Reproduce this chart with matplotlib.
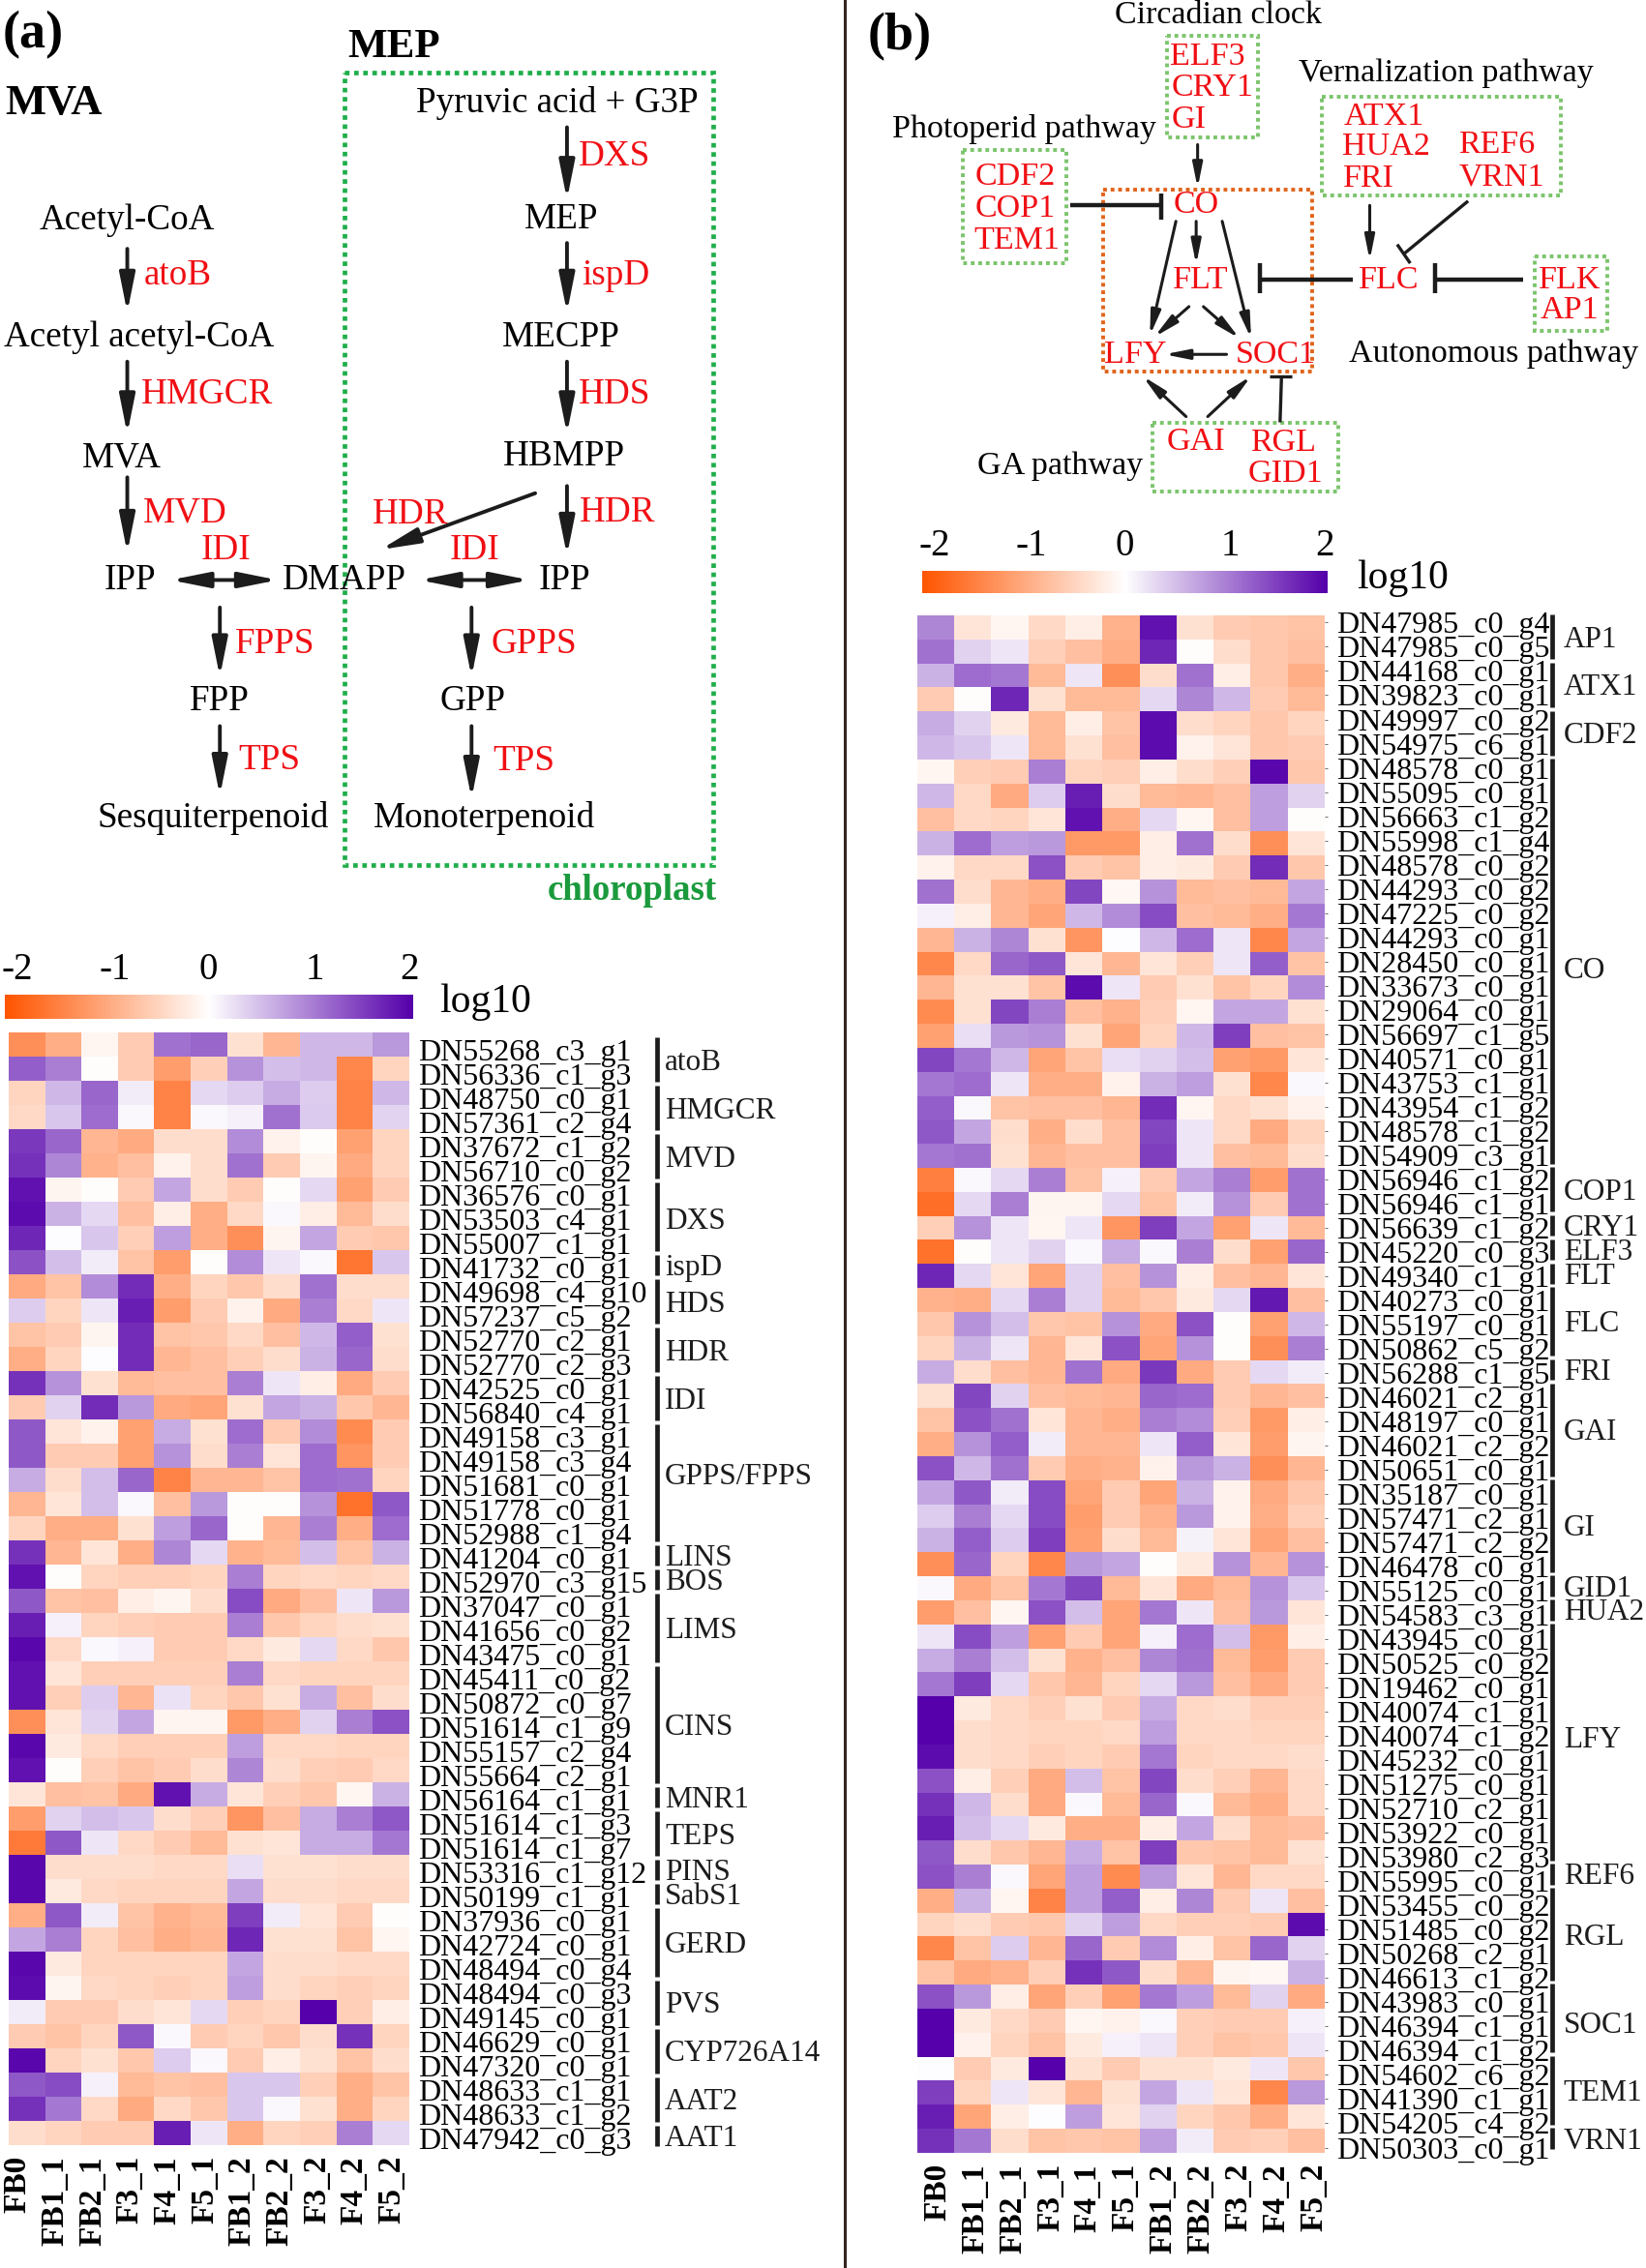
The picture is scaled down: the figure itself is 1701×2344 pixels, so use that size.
import matplotlib
matplotlib.use('Agg')
import matplotlib.pyplot as plt
import numpy as np
from matplotlib.colors import LinearSegmentedColormap
from matplotlib.patches import Rectangle

plt.rcParams['font.family'] = ['Liberation Serif', 'DejaVu Serif']

# samples
samples = ['FB0', 'FB1_1', 'FB2_1', 'F3_1', 'F4_1', 'F5_1', 'FB1_2', 'FB2_2', 'F3_2', 'F4_2', 'F5_2']
cbar_ticks = [-1.88, -0.92, 0, 1.04, 1.97]
cbar_labels = ['-2', '-1', '0', '1', '2']

# panel a heatmap
genes_a = ['DN55268_c3_g1', 'DN56336_c1_g3', 'DN48750_c0_g1', 'DN57361_c2_g4', 'DN37672_c1_g2', 'DN56710_c0_g2',
           'DN36576_c0_g1', 'DN53503_c4_g1', 'DN55007_c1_g1', 'DN41732_c0_g1', 'DN49698_c4_g10', 'DN57237_c5_g2',
           'DN52770_c2_g1', 'DN52770_c2_g3', 'DN42525_c0_g1', 'DN56840_c4_g1', 'DN49158_c3_g1', 'DN49158_c3_g4',
           'DN51681_c0_g1', 'DN51778_c0_g1', 'DN52988_c1_g4', 'DN41204_c0_g1', 'DN52970_c3_g15', 'DN37047_c0_g1',
           'DN41656_c0_g2', 'DN43475_c0_g1', 'DN45411_c0_g2', 'DN50872_c0_g7', 'DN51614_c1_g9', 'DN55157_c2_g4',
           'DN55664_c2_g1', 'DN56164_c1_g1', 'DN51614_c1_g3', 'DN51614_c1_g7', 'DN53316_c1_g12', 'DN50199_c1_g1',
           'DN37936_c0_g1', 'DN42724_c0_g1', 'DN48494_c0_g4', 'DN48494_c0_g3', 'DN49145_c0_g1', 'DN46629_c0_g1',
           'DN47320_c0_g1', 'DN48633_c1_g1', 'DN48633_c1_g2', 'DN47942_c0_g3']
groups_a = ['atoB', 'HMGCR', 'MVD', 'DXS', 'ispD', 'HDS', 'HDR', 'IDI', 'GPPS/FPPS', 'LINS', 'BOS', 'LIMS', 'CINS',
            'MNR1', 'TEPS', 'PINS', 'SabS1', 'GERD', 'PVS', 'CYP726A14', 'AAT2', 'AAT1']
group_sizes_a = [2, 2, 2, 3, 1, 2, 2, 2, 5, 1, 1, 3, 5, 1, 2, 1, 1, 3, 2, 2, 2, 1]
values_a = [
    [-1.3, -0.95, -0.1, -0.6, 1.1, 1.2, -0.35, -0.85, 0.55, 0.55, 0.8],
    [1.25, 1.0, -0.03, -0.6, -1.15, -0.55, 0.85, 0.5, 0.55, -1.4, -0.5],
    [-0.5, 0.55, 1.2, 0.15, -1.45, 0.3, 0.4, 0.65, 0.4, -1.45, 0.55],
    [-0.45, 0.45, 1.15, 0.05, -1.45, 0.05, 0.12, 1.1, 0.42, -1.45, 0.33],
    [1.55, 1.2, -0.85, -1.0, -0.4, -0.4, 0.9, -0.15, -0.03, -1.1, -0.5],
    [1.6, 0.95, -0.9, -0.75, -0.15, -0.4, 1.1, -0.6, -0.12, -1.0, -0.5],
    [1.85, -0.12, -0.02, -0.6, 0.7, -0.4, -0.6, -0.03, 0.3, -1.1, -0.6],
    [1.9, 0.6, 0.3, -0.75, -0.2, -0.95, -0.45, 0.05, -0.2, -0.8, -0.4],
    [1.7, 0.03, 0.45, -0.55, 0.75, -0.95, -1.3, -0.12, 0.7, -0.6, -0.65],
    [1.35, 0.5, 0.15, -0.7, -1.15, -0.02, 0.9, 0.2, 0.05, -1.6, 0.45],
    [-1.0, -0.7, 0.9, 1.65, -0.95, -0.5, -0.65, -0.4, 1.1, -0.4, -0.4],
    [0.4, -0.5, 0.2, 1.75, -1.15, -0.6, -0.15, -1.0, 1.0, -0.45, 0.2],
    [-0.7, -0.6, -0.12, 1.65, -0.7, -0.65, -0.45, -0.75, 0.55, 1.25, -0.35],
    [-0.95, -0.5, 0.03, 1.65, -0.85, -0.75, -0.55, -0.4, 0.6, 1.2, -0.4],
    [1.6, 0.85, -0.35, -0.8, -0.75, -0.75, 1.0, 0.2, -0.2, -1.0, -0.6],
    [-0.6, 0.35, 1.65, 0.8, -1.0, -1.05, -0.35, 0.7, 0.6, -0.65, -0.85],
    [1.3, -0.3, -0.15, -1.1, 0.65, -0.35, 1.15, -0.6, 0.9, -1.35, -0.6],
    [1.3, -0.6, -0.6, -1.1, 0.85, -0.4, 1.0, -0.3, 1.15, -1.25, -0.6],
    [0.65, -0.4, 0.5, 1.2, -1.45, -0.85, -0.85, -0.7, 1.15, 1.1, -0.5],
    [-0.85, -0.3, 0.5, 0.05, -0.75, 0.8, -0.02, -0.02, 0.85, -1.65, 1.3],
    [-0.5, -0.95, -0.95, -0.35, 0.75, 1.2, -0.02, -0.85, 1.0, -0.95, 1.15],
    [1.6, -0.85, -0.3, -0.95, 0.95, 0.3, -0.9, -0.8, 0.5, -0.7, 0.6],
    [1.85, -0.02, -0.5, -0.55, -0.55, -0.5, 1.0, -0.5, -0.45, -0.5, -0.45],
    [1.3, -0.7, -0.75, -0.2, -0.12, -0.4, 1.4, -1.0, -0.75, 0.2, 0.8],
    [1.75, 0.12, -0.5, -0.55, -0.6, -0.6, 1.0, -0.65, -0.5, -0.4, -0.35],
    [1.95, -0.45, 0.05, 0.12, -0.6, -0.6, -0.45, -0.25, 0.3, -0.45, -0.65],
    [1.85, -0.3, -0.55, -0.55, -0.55, -0.55, 1.0, -0.45, -0.5, -0.5, -0.5],
    [1.85, -0.55, 0.4, -0.85, 0.22, -0.5, -0.65, -0.35, 0.65, -0.75, -0.4],
    [-1.3, -0.3, 0.35, 0.7, -0.12, -0.12, -1.2, -0.95, 0.35, 1.0, 1.35],
    [1.95, -0.25, -0.45, -0.55, -0.55, -0.55, 0.75, -0.45, -0.45, -0.5, -0.5],
    [1.85, -0.02, -0.55, -0.7, -0.6, -0.4, 0.95, -0.4, -0.55, -0.6, -0.45],
    [-0.3, -0.75, -0.7, -1.0, 1.85, 0.65, -0.3, -0.55, -0.65, -0.1, 0.6],
    [-1.15, 0.35, 0.5, 0.45, -0.4, -0.55, -1.25, -0.75, 0.65, 1.0, 1.3],
    [-1.55, 1.3, 0.2, -0.45, -0.6, -0.8, -0.35, -0.3, 0.65, 0.65, 1.05],
    [1.95, -0.4, -0.4, -0.4, -0.45, -0.45, 0.25, -0.35, -0.35, -0.4, -0.4],
    [1.95, -0.25, -0.45, -0.5, -0.5, -0.5, 0.7, -0.4, -0.4, -0.45, -0.45],
    [-0.95, 1.3, 0.15, -0.7, -0.9, -0.8, 1.5, 0.15, -0.3, -0.6, -0.02],
    [0.7, 1.0, -0.5, -0.75, -0.95, -0.85, 1.7, -0.35, -0.35, -0.7, -0.1],
    [1.95, -0.25, -0.5, -0.5, -0.5, -0.5, 0.7, -0.4, -0.4, -0.45, -0.45],
    [1.9, -0.12, -0.45, -0.5, -0.55, -0.5, 0.75, -0.4, -0.5, -0.55, -0.5],
    [0.15, -0.6, -0.6, -0.4, -0.3, 0.3, -0.55, -0.5, 2.0, -0.55, -0.2],
    [-0.6, -0.7, -0.5, 1.3, 0.05, -0.6, -0.5, -0.65, -0.4, 1.6, -0.5],
    [1.95, -0.5, -0.35, -0.65, 0.4, 0.05, -0.6, -0.2, -0.35, -0.7, -0.4],
    [1.3, 1.4, 0.12, -0.8, -0.7, -0.75, 0.45, 0.45, -0.55, -0.95, -0.7],
    [1.6, 1.05, -0.45, -1.0, -0.45, -0.65, 0.45, 0.05, -0.35, -0.95, -0.5],
    [-0.4, -0.5, -0.6, -0.6, 1.75, 0.2, -0.95, -0.5, -0.55, 1.0, 0.3],
]

# panel b heatmap
genes_b = ['DN47985_c0_g4', 'DN47985_c0_g5', 'DN44168_c0_g1', 'DN39823_c0_g1', 'DN49997_c0_g2', 'DN54975_c6_g1',
           'DN48578_c0_g1', 'DN55095_c0_g1', 'DN56663_c1_g2', 'DN55998_c1_g4', 'DN48578_c0_g2', 'DN44293_c0_g2',
           'DN47225_c0_g2', 'DN44293_c0_g1', 'DN28450_c0_g1', 'DN33673_c0_g1', 'DN29064_c0_g1', 'DN56697_c1_g5',
           'DN40571_c0_g1', 'DN43753_c1_g1', 'DN43954_c1_g2', 'DN48578_c1_g2', 'DN54909_c3_g1', 'DN56946_c1_g2',
           'DN56946_c1_g1', 'DN56639_c1_g2', 'DN45220_c0_g3', 'DN49340_c1_g1', 'DN40273_c0_g1', 'DN55197_c0_g1',
           'DN50862_c5_g2', 'DN56288_c1_g5', 'DN46021_c2_g1', 'DN48197_c0_g1', 'DN46021_c2_g2', 'DN50651_c0_g1',
           'DN35187_c0_g1', 'DN57471_c2_g1', 'DN57471_c2_g2', 'DN46478_c0_g1', 'DN55125_c0_g1', 'DN54583_c3_g1',
           'DN43945_c0_g1', 'DN50525_c0_g2', 'DN19462_c0_g1', 'DN40074_c1_g1', 'DN40074_c1_g2', 'DN45232_c0_g1',
           'DN51275_c0_g1', 'DN52710_c2_g1', 'DN53922_c0_g1', 'DN53980_c2_g3', 'DN55995_c0_g1', 'DN53455_c0_g2',
           'DN51485_c0_g2', 'DN50268_c2_g1', 'DN46613_c1_g2', 'DN43983_c0_g1', 'DN46394_c1_g1', 'DN46394_c1_g2',
           'DN54602_c6_g2', 'DN41390_c1_g1', 'DN54205_c4_g2', 'DN50303_c0_g1']
groups_b = ['AP1', 'ATX1', 'CDF2', 'CO', 'COP1', 'CRY1', 'ELF3', 'FLT', 'FLC', 'FRI', 'GAI', 'GI', 'GID1', 'HUA2',
            'LFY', 'REF6', 'RGL', 'SOC1', 'TEM1', 'VRN1']
group_sizes_b = [2, 2, 2, 17, 2, 1, 1, 1, 3, 1, 4, 4, 1, 1, 10, 1, 4, 3, 3, 1]
values_b = [
    [0.95, -0.3, -0.1, -0.45, -0.2, -0.9, 1.85, -0.35, -0.6, -0.65, -0.7],
    [1.1, 0.35, 0.2, -0.55, -0.75, -0.95, 1.7, -0.03, -0.4, -0.65, -0.75],
    [0.6, 1.15, 1.05, -0.8, 0.2, -1.3, -0.4, 1.1, -0.2, -0.65, -0.95],
    [-0.6, -0.02, 1.7, -0.35, -0.8, -0.8, 0.3, 0.95, 0.55, -0.6, -0.8],
    [0.65, 0.35, -0.25, -0.8, -0.2, -0.7, 1.9, -0.4, -0.5, -0.65, -0.5],
    [0.55, 0.45, 0.2, -0.8, -0.35, -0.75, 1.9, -0.15, -0.3, -0.65, -0.6],
    [-0.1, -0.55, -0.6, 1.0, -0.5, -0.55, -0.2, -0.4, -0.55, 1.95, -0.65],
    [0.55, -0.45, -1.0, 0.4, 1.75, -0.4, -0.8, -0.85, -0.75, 0.75, 0.35],
    [-0.75, -0.45, -0.5, -0.3, 1.85, -0.95, 0.3, -0.1, -0.75, 0.75, -0.02],
    [0.6, 1.15, 0.75, 0.8, -1.2, -1.2, -0.2, 1.1, -0.4, -1.3, -0.3],
    [-0.15, -0.45, -0.45, 1.35, -0.6, -0.7, -0.2, -0.25, -0.6, 1.65, -0.65],
    [1.1, -0.4, -0.85, -0.95, 1.45, -0.08, 0.85, -0.8, -0.75, -0.8, 0.7],
    [0.12, -0.2, -0.85, -1.05, 0.55, 0.9, 1.4, -0.75, -0.8, -0.95, 1.05],
    [-0.85, 0.6, 0.95, -0.35, -1.25, 0.03, 0.55, 1.15, 0.2, -1.4, 0.7],
    [-1.4, -0.45, 1.2, 1.3, -0.3, -0.85, -0.3, -0.55, 0.2, 1.25, -0.7],
    [-0.85, -0.35, -0.35, -0.7, 1.9, 0.2, -0.6, -0.35, -0.7, -0.5, 0.9],
    [-1.35, -0.35, 1.45, 1.0, -0.75, -0.9, -0.55, -0.1, 0.7, 0.7, -0.35],
    [-1.1, 0.25, 0.8, 0.85, -0.35, -1.05, -0.5, 0.55, 1.5, -0.75, -0.7],
    [1.45, 1.05, 0.55, -1.05, -0.7, 0.25, 0.35, 0.5, -1.1, -1.2, -0.3],
    [1.05, 1.15, 0.2, -0.95, -0.95, -0.15, 0.6, 0.75, -0.35, -1.4, 0.05],
    [1.25, 0.05, -0.7, -0.75, -0.75, -0.85, 1.65, -0.1, -0.45, -0.35, -0.15],
    [1.3, 0.7, -0.4, -0.95, -0.4, -0.75, 1.45, 0.2, -0.45, -1.0, -0.5],
    [1.05, 1.1, -0.35, -0.85, -0.75, -0.75, 1.5, 0.2, -0.75, -0.8, -0.4],
    [-1.5, 0.05, 0.3, 1.0, -0.7, 0.12, -0.6, 0.7, 1.0, -1.15, 1.1],
    [-1.7, 0.3, 1.0, -0.12, -0.12, 0.3, -0.7, 0.15, 0.85, -0.6, 1.1],
    [-0.55, 0.85, 0.2, -0.1, 0.2, -1.25, 1.5, 0.7, -1.1, 0.2, -0.8],
    [-1.65, -0.02, 0.2, 0.35, 0.05, 0.65, 0.05, 1.0, -0.4, -1.1, 1.2],
    [1.7, 0.3, -0.3, -1.05, 0.35, -0.75, 0.85, -0.2, -0.75, -0.85, -0.3],
    [-0.9, -0.95, 0.3, 1.0, 0.35, -0.8, -0.65, -0.25, 0.3, 1.8, -0.75],
    [-0.65, 0.85, 0.5, -0.65, -0.7, 0.85, -1.0, 1.35, -0.02, -1.1, 0.55],
    [-0.5, 0.6, 0.2, -0.85, -0.3, 1.35, -1.05, 0.85, -0.02, -1.3, 1.0],
    [0.65, -0.4, -0.75, -0.85, 1.1, -1.0, 1.55, -1.0, -0.6, 0.3, 0.15],
    [-0.35, 1.45, 0.35, -0.75, -0.8, -0.85, 1.2, 1.15, -0.6, -0.85, -0.75],
    [-0.7, 1.35, 1.1, -0.3, -0.85, -0.95, 1.0, 0.9, -0.55, -1.2, -0.2],
    [-0.95, 0.85, 1.25, 0.15, -0.85, -0.85, 0.2, 1.25, -0.3, -1.15, -0.12],
    [1.35, 0.55, 1.1, -0.6, -0.95, -0.9, -0.15, 0.8, 0.6, -1.3, -0.85],
    [0.7, 1.3, 0.15, 1.4, -1.05, -0.6, -1.05, 0.6, -0.15, -1.0, -0.65],
    [0.4, 1.0, 0.3, 1.4, -1.15, -0.6, -0.9, 0.8, -0.15, -0.95, -0.55],
    [0.6, 1.25, 0.4, 1.5, -1.1, -0.4, -0.8, 0.1, -0.3, -1.05, -0.75],
    [-1.3, 1.2, -0.5, -1.4, 0.8, 0.7, -0.02, -0.25, 0.85, -0.85, 0.85],
    [0.05, -1.0, -0.7, 1.05, 1.45, -0.8, -0.3, -1.0, -0.8, 0.85, 0.45],
    [-1.15, -0.75, -0.1, 1.35, 0.5, -1.05, 1.05, 0.2, -0.75, 0.8, -0.3],
    [0.2, 1.4, 0.75, -1.1, -0.6, -1.05, 0.12, 1.15, 0.5, -1.2, -0.2],
    [0.65, 1.0, 0.5, -0.35, -0.9, -0.75, 0.95, 1.1, -0.8, -1.15, -0.6],
    [1.05, 1.5, 0.3, -0.65, -0.85, -0.5, 0.3, 0.8, -0.75, -1.0, -0.6],
    [2.0, -0.25, -0.45, -0.55, -0.35, -0.6, 0.65, -0.45, -0.4, -0.55, -0.55],
    [2.0, -0.4, -0.45, -0.5, -0.5, -0.45, 0.75, -0.45, -0.45, -0.5, -0.5],
    [1.9, -0.4, -0.45, -0.55, -0.5, -0.6, 1.05, -0.5, -0.45, -0.45, -0.4],
    [1.35, -0.2, -0.55, -1.0, 0.5, -0.7, 1.45, -0.4, -0.55, -0.85, -0.45],
    [1.6, 0.55, -0.4, -1.0, 0.05, -0.8, 1.2, 0.05, -0.8, -0.95, -0.45],
    [1.75, 0.5, 0.3, -0.25, -0.95, -0.95, -0.2, 0.7, -0.4, -0.8, -0.75],
    [1.3, -0.4, -0.65, -0.85, 0.65, -0.7, 1.5, -0.65, -0.7, -0.8, -0.35],
    [1.35, 1.0, 0.05, -1.05, 0.75, -1.35, 0.8, -0.3, -0.85, -0.45, -0.45],
    [-0.95, 0.6, -0.1, -1.45, 0.75, 1.25, -0.2, 0.95, -0.6, 0.2, -0.75],
    [-0.5, -0.4, -0.6, -0.65, 0.35, 0.75, -0.45, -0.55, -0.55, -0.6, 1.9],
    [-1.4, -0.7, 0.4, -0.85, 1.2, -0.6, 0.9, -0.2, -0.7, 1.2, 0.35],
    [-0.7, -1.0, -0.9, -0.55, 1.6, 1.3, -0.4, -0.85, -0.12, -0.08, 0.6],
    [1.35, 0.8, -0.2, -1.05, -0.55, -1.1, 1.05, 0.75, -0.8, 0.35, -1.0],
    [2.0, -0.25, -0.45, -0.6, -0.1, -0.15, 0.05, -0.55, -0.6, -0.6, 0.12],
    [2.0, -0.15, -0.5, -0.7, -0.25, 0.12, 0.2, -0.55, -0.7, -0.65, 0.2],
    [0.03, -0.6, -0.25, 2.0, -0.35, -0.6, -0.35, -0.35, -0.25, 0.2, -0.65],
    [1.5, -0.5, 0.2, -0.3, -0.85, -0.35, 0.7, 0.2, -0.3, -1.4, 0.8],
    [1.75, -1.05, -0.2, 0.03, 0.75, -0.3, 0.35, -0.5, -0.65, -0.95, -0.3],
    [1.6, 1.05, -0.4, -0.7, -0.65, -0.7, 0.75, 0.15, -0.6, -0.55, -0.75],
]

W, H = 1701, 2344
RED = '#f00f14'
INK = '#1c1c1c'
cmap = LinearSegmentedColormap.from_list('orpu', ['#ff5500', '#ffffff', '#5500aa'])
# labels that sit off the middle of their bracket in the original
group_nudge = {'GPPS/FPPS': -0.35, 'DXS': 0.1, 'CO': 0.3, 'LFY': -0.2, 'SOC1': 0.2}

fig = plt.figure(figsize=(W / 100, H / 100), dpi=100)


def axes_px(x0, y0, x1, y1):
    return fig.add_axes([x0 / W, 1 - y1 / H, (x1 - x0) / W, (y1 - y0) / H])


def heatmap(box, values, genes, groups, sizes, bar_x, label_x, shift, tick_len, label_scale, label_off, row_off, row_scale):
    ax = axes_px(*box)
    data = np.array(values)
    ax.imshow(data, cmap=cmap, vmin=-2, vmax=2, aspect='auto', interpolation='nearest')
    for s in ax.spines.values():
        s.set_visible(False)
    ax.yaxis.tick_right()
    ax.set_yticks(np.arange(len(genes)) * row_scale + row_off)
    ax.set_yticklabels(genes, fontsize=23)
    ax.set_xticks(np.arange(len(samples)) * label_scale + label_off)
    ax.set_xticklabels(samples, rotation=90, fontsize=24, fontweight='bold')
    ax.tick_params(axis='y', length=tick_len, width=0.6, pad=7, color='#555555')
    ax.tick_params(axis='x', length=0, pad=8)
    ax.set_xlim(-0.5, len(samples) - 0.5)
    ax.set_ylim(len(genes) - 0.5, -0.5)
    # gene family brackets
    start = 0
    for name, n in zip(groups, sizes):
        y0 = start - 0.5 + 0.07 + shift
        y1 = start + n - 0.5 - 0.07 + shift
        ax.plot([bar_x, bar_x], [y0, y1], color=INK, lw=3.4, clip_on=False, solid_capstyle='butt')
        ax.text(label_x, (y0 + y1) / 2 + 0.12 + group_nudge.get(name, 0), name, fontsize=22.5, va='center',
                ha='left', color=INK, clip_on=False)
        start += n
    return ax


def colorbar(box):
    ax = axes_px(*box)
    ax.imshow(np.linspace(-2, 2, 256).reshape(1, -1), cmap=cmap, vmin=-2, vmax=2, aspect='auto',
              extent=[-2, 2, 0, 1])
    for s in ax.spines.values():
        s.set_visible(False)
    ax.xaxis.tick_top()
    ax.set_yticks([])
    ax.set_xticks(cbar_ticks)
    ax.set_xticklabels(cbar_labels, fontsize=28)
    ax.tick_params(axis='x', length=0, pad=5)


heatmap((9, 1067, 422, 2217), values_a, genes_a, groups_a, group_sizes_a, 17.35, 17.56, 0.12, 0, 1.03, -0.25, 0.22, 1.0)
heatmap((948, 636, 1369, 2225), values_b, genes_b, groups_b, group_sizes_b, 16.63, 16.95, -0.1, 2, 1.015, 0.05, -0.2, 1.0076)
colorbar((5, 1028, 426, 1053))
colorbar((953, 590, 1372, 613))

# diagrams sit on one overlay axes, read in the shrunk picture's units
ov = fig.add_axes([0, 0, 1, 1], facecolor='none')
ov.set_xlim(0, 1138)
ov.set_ylim(1568, 0)
ov.axis('off')


def txt(x, y, s, color='black', size=26.7, weight='normal', ha='center'):
    ov.text(x, y + 2.5, s, color=color, fontsize=size, fontweight=weight, ha=ha, va='center')


def arrow(x0, y0, x1, y1, lw=2.8, both=False, scale=24):
    head = 'head_width=0.2,head_length=1.0'
    style = f'<|-|>,{head}' if both else f'-|>,{head}'
    ov.annotate('', xy=(x1, y1), xytext=(x0, y0),
                arrowprops=dict(arrowstyle=style, color=INK, lw=lw, shrinkA=0, shrinkB=0, mutation_scale=scale))


def tbar(x0, y0, x1, y1, bx0, by0, bx1, by1, lw=3.2):
    ov.plot([x0, x1], [y0, y1], color=INK, lw=lw, solid_capstyle='butt')
    ov.plot([bx0, bx1], [by0, by1], color=INK, lw=lw, solid_capstyle='butt')


def box(x0, y0, x1, y1, color, lw=2.8):
    ov.add_patch(Rectangle((x0, y0), x1 - x0, y1 - y0, fill=False, edgecolor=color, lw=lw, linestyle=(0, (1, 1))))


# divider
ov.plot([584, 584], [0, 1568], color='#33261f', lw=2.2)

# panel a
txt(23, 22, '(a)', size=39, weight='bold')
txt(37, 69, 'MVA', size=32, weight='bold')
txt(272, 30, 'MEP', size=31, weight='bold')
box(238, 50, 493, 598, '#1fae4a', 3.4)
txt(437, 613, 'chloroplast', color='#1a9a3c', size=26.5, weight='bold')

for x, y, s in [(88, 150, 'Acetyl-CoA'), (96, 231, 'Acetyl acetyl-CoA'), (84, 314, 'MVA'), (90, 399, 'IPP'),
                (238, 399, 'DMAPP'), (390, 399, 'IPP'), (385, 69, 'Pyruvic acid + G3P'), (388, 149, 'MEP'),
                (388, 231, 'MECPP'), (390, 313, 'HBMPP'), (152, 482, 'FPP'), (327, 482, 'GPP'),
                (147, 563, 'Sesquiterpenoid'), (335, 563, 'Monoterpenoid')]:
    txt(x, y, s)
for x, y, s in [(123, 188, 'atoB'), (143, 270, 'HMGCR'), (128, 352, 'MVD'), (156, 378, 'IDI'), (284, 353, 'HDR'),
                (328, 378, 'IDI'), (425, 106, 'DXS'), (426, 188, 'ispD'), (425, 270, 'HDS'), (427, 352, 'HDR'),
                (190, 443, 'FPPS'), (186, 523, 'TPS'), (369, 443, 'GPPS'), (362, 524, 'TPS')]:
    txt(x, y, s, color=RED)
for a in [(88, 172, 88, 216), (88, 250, 88, 300), (88, 330, 88, 382), (392, 88, 392, 138), (392, 168, 392, 216),
          (392, 250, 392, 300), (392, 336, 392, 384), (370, 341, 263, 380), (152, 420, 152, 468), (152, 502, 152, 550),
          (326, 420, 326, 468), (326, 502, 326, 552)]:
    arrow(*a)
arrow(118, 401, 192, 401, both=True)
arrow(290, 401, 366, 401, both=True)
ov.text(304, 693, 'log10', fontsize=30, ha='left', va='center')

# panel b
txt(622, 23, '(b)', size=39, weight='bold')
for x, y, s in [(842, 8, 'Circadian clock'), (1000, 48, 'Vernalization pathway'), (708, 87, 'Photoperid pathway'),
                (1033, 242, 'Autonomous pathway'), (733, 320, 'GA pathway')]:
    txt(x, y, s, size=24.5)
ov.text(938, 400, 'log10', fontsize=30, ha='left', va='center')

for b in [(807, 25, 870, 95), (914, 67, 1079, 135), (666, 104, 737, 182), (1061, 177, 1111, 229), (797, 292, 925, 340)]:
    box(*b, '#7cc46c')
box(763, 131, 907, 257, '#e0641a')

for x, y, s in [(835, 37, 'ELF3'), (838, 58, 'CRY1'), (822, 80, 'GI'), (957, 78, 'ATX1'), (958, 99, 'HUA2'),
                (946, 121, 'FRI'), (1035, 98, 'REF6'), (1038, 120, 'VRN1'), (702, 120, 'CDF2'), (702, 142, 'COP1'),
                (703, 164, 'TEM1'), (827, 139, 'CO'), (830, 191, 'FLT'), (785, 243, 'LFY'), (882, 243, 'SOC1'),
                (960, 191, 'FLC'), (1085, 191, 'FLK'), (1085, 212, 'AP1'), (827, 303, 'GAI'), (887, 304, 'RGL'),
                (889, 325, 'GID1')]:
    txt(x, y, s, color=RED, size=24.5)

for a in [(828, 100, 828, 130), (813, 153, 795, 232), (827, 153, 827, 183), (845, 153, 865, 234),
          (822, 212, 798, 233), (832, 212, 857, 234), (848, 245, 805, 245), (947, 142, 947, 180),
          (820, 288, 790, 260), (835, 288, 865, 260)]:
    arrow(*a, lw=2.2, scale=15)
tbar(740, 142, 803, 142, 803, 134, 803, 152)
tbar(935, 193, 871, 193, 871, 182, 871, 203)
tbar(1053, 193, 992, 193, 992, 182, 992, 203)
tbar(1015, 139, 970, 176, 966, 169, 975, 182, lw=2.4)
tbar(885, 292, 886, 260, 878, 260, 893, 260, lw=2.4)

fig.savefig('out.png', dpi=100)
